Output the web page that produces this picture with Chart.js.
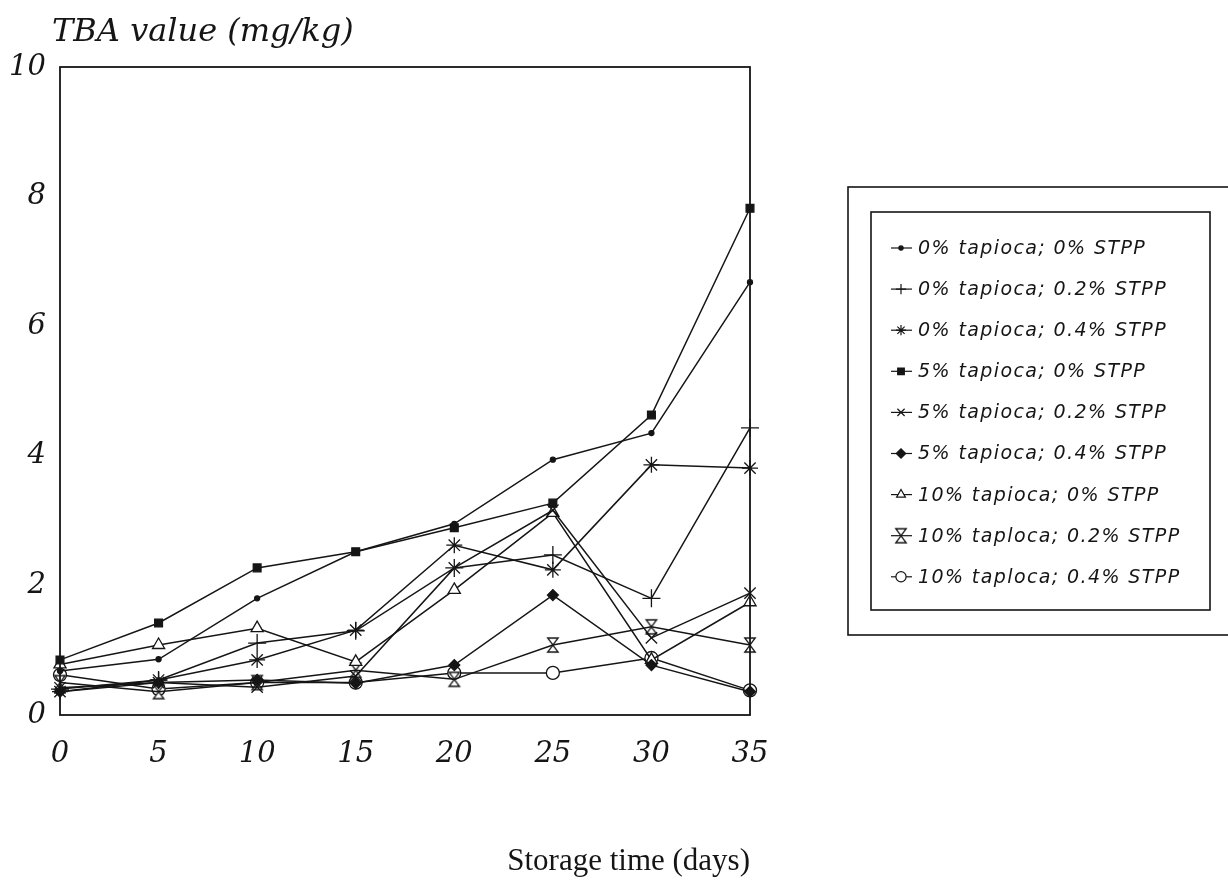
<!DOCTYPE html>
<html>
<head>
<meta charset="utf-8">
<script src="https://cdn.jsdelivr.net/npm/chart.js"></script>
<style>
  html, body { margin: 0; padding: 0; background: #fff; }
  #wrap { width: 1228px; height: 882px; }
</style>
</head>
<body>
<div id="wrap"><canvas id="tba" width="1228" height="882"></canvas></div>
<script>
// storage time (days)
const days = [0, 5, 10, 15, 20, 25, 30, 35];

// TBA value (mg/kg)
const tap0Stpp0  = [0.68, 0.86, 1.80, 2.52, 2.95, 3.94, 4.35, 6.68];
const tap0Stpp2  = [0.40, 0.54, 1.11, 1.30, 2.27, 2.47, 1.80, 4.43];
const tap0Stpp4  = [0.36, 0.54, 0.85, 1.31, 2.62, 2.24, 3.86, 3.81];
const tap5Stpp0  = [0.85, 1.42, 2.27, 2.52, 2.89, 3.27, 4.63, 7.82];
const tap5Stpp2  = [0.42, 0.50, 0.43, 0.60, 2.27, 3.16, 1.19, 1.88];
const tap5Stpp4  = [0.36, 0.50, 0.54, 0.49, 0.77, 1.85, 0.77, 0.36];
const tap10Stpp0 = [0.78, 1.08, 1.34, 0.82, 1.93, 3.12, 0.85, 1.74];
const tap10Stpp2 = [0.50, 0.36, 0.50, 0.69, 0.55, 1.08, 1.36, 1.08];
const tap10Stpp4 = [0.62, 0.40, 0.50, 0.50, 0.65, 0.65, 0.88, 0.38];

const seriesNames = [
  '0% tapioca; 0% STPP',
  '0% tapioca; 0.2% STPP',
  '0% tapioca; 0.4% STPP',
  '5% tapioca; 0% STPP',
  '5% tapioca; 0.2% STPP',
  '5% tapioca; 0.4% STPP',
  '10% tapioca; 0% STPP',
  '10% taploca; 0.2% STPP',
  '10% taploca; 0.4% STPP'
];

const yTicks = [0, 2, 4, 6, 8, 10];
const xTicks = [0, 5, 10, 15, 20, 25, 30, 35];

const ink = '#151515';

// hourglass marker (two open triangles tip to tip)
function hourglass(r) {
  const c = document.createElement('canvas');
  c.width = c.height = 2 * r + 4;
  const g = c.getContext('2d');
  const m = r + 2;
  g.strokeStyle = ink;
  g.fillStyle = '#fff';
  g.lineWidth = 1.3;
  [-1, 1].forEach(s => {
    g.beginPath();
    g.moveTo(m - r * 0.75, m + s * r);
    g.lineTo(m + r * 0.75, m + s * r);
    g.lineTo(m, m);
    g.closePath();
    g.fill();
    g.stroke();
  });
  return c;
}

const styles = [
  { pointStyle: 'circle',   radius: 2.5, fill: ink },
  { pointStyle: 'cross',    radius: 9,   fill: ink },
  { pointStyle: 'star',     radius: 8,   fill: ink },
  { pointStyle: 'rect',     radius: 5.5, fill: ink },
  { pointStyle: 'crossRot', radius: 8,   fill: ink },
  { pointStyle: 'rectRot',  radius: 5.5, fill: ink },
  { pointStyle: 'triangle', radius: 7,   fill: '#fff' },
  { pointStyle: hourglass(7), radius: 7, fill: '#fff' },
  { pointStyle: 'circle',   radius: 6.5, fill: '#fff' }
];

const values = [tap0Stpp0, tap0Stpp2, tap0Stpp4, tap5Stpp0, tap5Stpp2,
                tap5Stpp4, tap10Stpp0, tap10Stpp2, tap10Stpp4];

const datasets = values.map((arr, i) => ({
  label: seriesNames[i],
  data: days.map((d, j) => ({ x: d, y: arr[j] })),
  borderColor: ink,
  backgroundColor: styles[i].fill,
  pointBackgroundColor: styles[i].fill,
  pointBorderColor: ink,
  pointBorderWidth: 1.3,
  pointStyle: styles[i].pointStyle,
  pointRadius: styles[i].radius,
  borderWidth: 1.5,
  tension: 0,
  clip: false
}));

// frame, y title and the double-boxed legend
const paperPlugin = {
  id: 'paper',
  afterDatasetsDraw(chart) {
    const { ctx, chartArea: a } = chart;
    ctx.save();
    ctx.strokeStyle = ink;
    ctx.lineWidth = 1.8;
    ctx.strokeRect(a.left, a.top, a.right - a.left, a.bottom - a.top);

    ctx.fillStyle = ink;
    ctx.font = 'italic 32px "DejaVu Serif"';
    ctx.textBaseline = 'alphabetic';
    ctx.textAlign = 'left';
    ctx.fillText('TBA value (mg/kg)', 52, 41);

    // legend
    ctx.lineWidth = 1.6;
    ctx.strokeRect(848, 187, 420, 448);
    ctx.strokeRect(871, 212, 339, 398);
    ctx.font = 'italic 19px "DejaVu Sans"';
    ctx.letterSpacing = '1.4px';
    ctx.textBaseline = 'middle';
    chart.data.datasets.forEach((ds, i) => {
      const y = 248 + i * 41.1;
      ctx.strokeStyle = ink;
      ctx.lineWidth = 1.2;
      ctx.beginPath();
      ctx.moveTo(891, y);
      ctx.lineTo(912, y);
      ctx.stroke();
      ctx.fillStyle = ds.pointBackgroundColor;
      const r = typeof ds.pointStyle === 'string' ? Math.min(ds.pointRadius, 6) * 0.85 : ds.pointRadius;
      Chart.helpers.drawPoint(ctx, { pointStyle: ds.pointStyle, radius: r, borderWidth: 1.2, rotation: 0 }, 901, y);
      ctx.fillStyle = ink;
      ctx.fillText(ds.label, 918, y + 1);
    });
    ctx.restore();
  }
};

new Chart(document.getElementById('tba'), {
  type: 'line',
  data: { datasets },
  options: {
    responsive: false,
    animation: false,
    layout: { padding: { left: 2, right: 478, top: 67, bottom: 0 } },
    plugins: {
      legend: { display: false },
      tooltip: { enabled: false }
    },
    scales: {
      x: {
        type: 'linear',
        min: 0,
        max: 35,
        afterFit: s => { s.height = 167; },
        afterBuildTicks: s => { s.ticks = xTicks.map(v => ({ value: v })); },
        grid: { display: false, drawTicks: false },
        border: { display: false },
        ticks: {
          padding: 22,
          color: ink,
          maxRotation: 0,
          font: { family: 'DejaVu Serif', style: 'italic', size: 29 }
        },
        title: {
          display: true,
          text: 'Storage time (days)',
          align: 'end',
          color: ink,
          padding: { top: 0, bottom: 2 },
          font: { family: 'Liberation Serif', size: 31 }
        }
      },
      y: {
        min: 0,
        max: 10,
        afterFit: s => { s.width = 58; },
        afterBuildTicks: s => { s.ticks = yTicks.map(v => ({ value: v })); },
        grid: { display: false, drawTicks: false },
        border: { display: false },
        ticks: {
          padding: 14,
          color: ink,
          font: { family: 'DejaVu Serif', style: 'italic', size: 29 }
        }
      }
    }
  },
  plugins: [paperPlugin]
});
</script>
</body>
</html>
